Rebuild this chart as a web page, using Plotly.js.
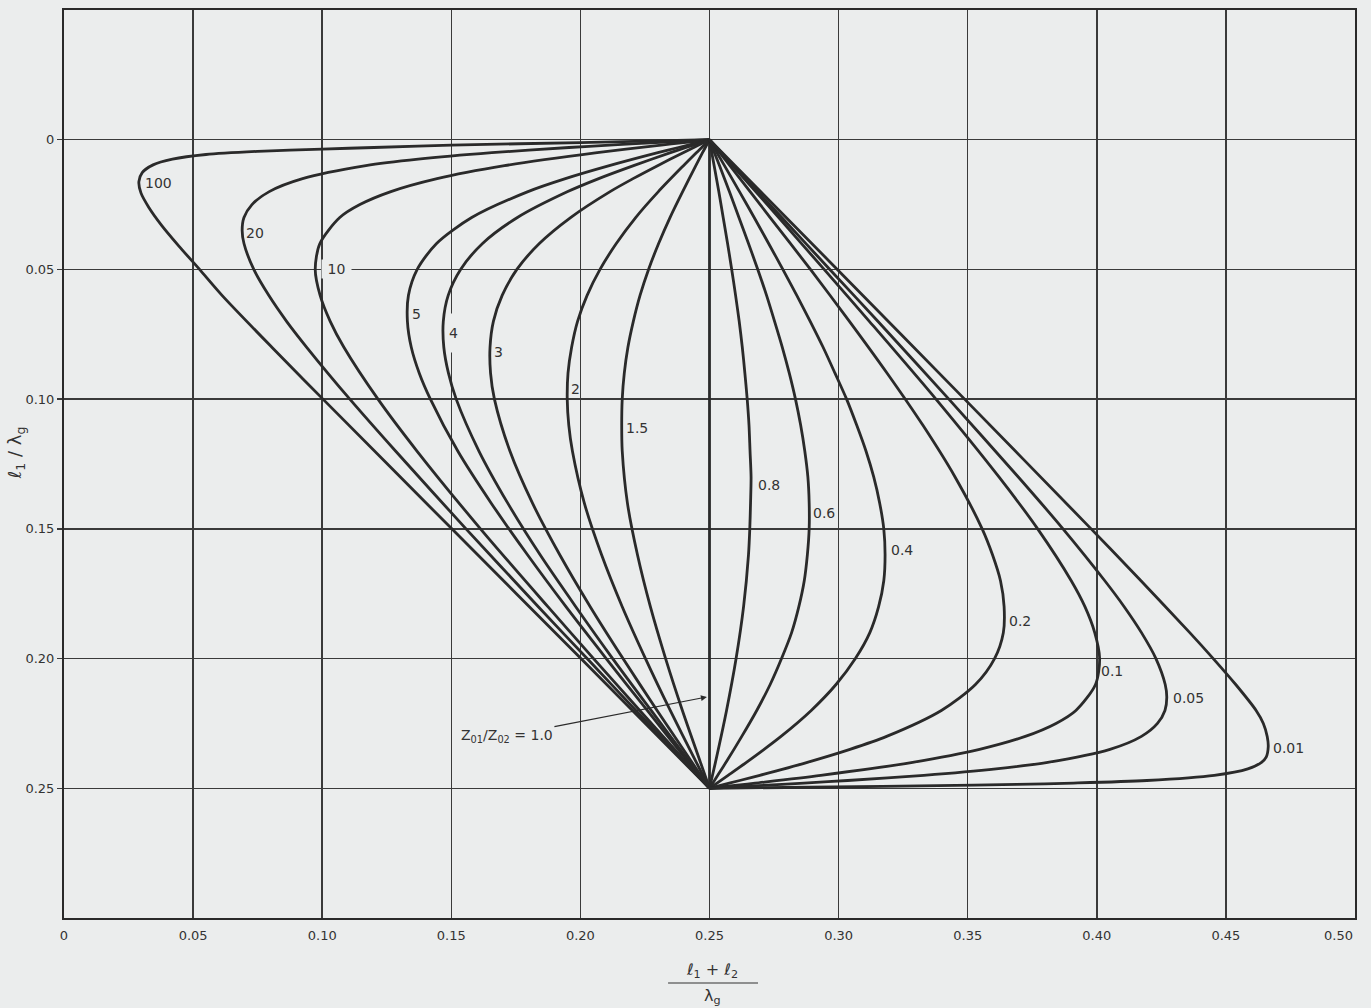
<!DOCTYPE html>
<html>
<head>
<meta charset="utf-8">
<script src="https://cdn.plot.ly/plotly-3.0.1.min.js"></script>
<style>
  html, body { margin: 0; padding: 0; background: #ebeded; }
  #chart { width: 1371px; height: 1008px; }
</style>
</head>
<body>
<div id="chart"></div>
<script>
// ---- data (x = (l1+l2)/lambda_g, y = l1/lambda_g) ----
const x_100 = [0.25, 0.20, 0.15, 0.12, 0.10, 0.075, 0.055, 0.042, 0.0345, 0.0303, 0.0290, 0.0298, 0.0328, 0.0378, 0.0445, 0.0525, 0.0612, 0.0805, 0.1003, 0.1502, 0.2002, 0.25];
const y_100 = [0, 0.0011, 0.0021, 0.0030, 0.0036, 0.0045, 0.0057, 0.0075, 0.0097, 0.0127, 0.0162, 0.0205, 0.0260, 0.0330, 0.0410, 0.0500, 0.0600, 0.0800, 0.1000, 0.1500, 0.2000, 0.25];

const x_20 = [0.25, 0.2405, 0.2311, 0.2128, 0.1956, 0.1657, 0.1372, 0.1169, 0.0924, 0.0795, 0.0728, 0.0697, 0.0690, 0.0697, 0.0735, 0.0793, 0.0862, 0.0940, 0.1107, 0.1284, 0.1557, 0.1837, 0.2026, 0.2215, 0.25];
const y_20 = [0, 0.0005, 0.001, 0.002, 0.003, 0.005, 0.0075, 0.01, 0.015, 0.02, 0.025, 0.03, 0.035, 0.04, 0.05, 0.06, 0.07, 0.08, 0.10, 0.12, 0.15, 0.18, 0.20, 0.22, 0.25];

const x_10 = [0.25, 0.2455, 0.2410, 0.2321, 0.2065, 0.1706, 0.1445, 0.1266, 0.1146, 0.1068, 0.0991, 0.0973, 0.0992, 0.1031, 0.1084, 0.1216, 0.1367, 0.1613, 0.1874, 0.2051, 0.2230, 0.25];
const y_10 = [0, 0.0005, 0.001, 0.002, 0.005, 0.01, 0.015, 0.02, 0.025, 0.03, 0.04, 0.05, 0.06, 0.07, 0.08, 0.10, 0.12, 0.15, 0.18, 0.20, 0.22, 0.25];

const y_mid = [0, 0.001, 0.003, 0.005, 0.01, 0.015, 0.02, 0.03, 0.04, 0.05, 0.06, 0.07, 0.08, 0.09, 0.10, 0.12, 0.14, 0.16, 0.18, 0.20, 0.22, 0.24, 0.25];
const x_5 = [0.25, 0.2460, 0.2380, 0.2300, 0.2112, 0.1942, 0.1797, 0.1579, 0.1443, 0.1368, 0.1334, 0.1330, 0.1345, 0.1376, 0.1419, 0.1525, 0.1654, 0.1795, 0.1944, 0.2100, 0.2259, 0.2419, 0.25];
const x_4 = [0.25, 0.2470, 0.2409, 0.2349, 0.2206, 0.2071, 0.1951, 0.1756, 0.1621, 0.1536, 0.1488, 0.1469, 0.1471, 0.1489, 0.1519, 0.1607, 0.1718, 0.1844, 0.1982, 0.2125, 0.2274, 0.2424, 0.25];
const x_3 = [0.25, 0.2480, 0.2439, 0.2398, 0.2299, 0.2204, 0.2115, 0.1962, 0.1841, 0.1754, 0.1697, 0.1663, 0.1650, 0.1652, 0.1667, 0.1727, 0.1814, 0.1920, 0.2038, 0.2165, 0.2297, 0.2432, 0.25];

const x_2 = [0.25, 0.2470, 0.2449, 0.2399, 0.2302, 0.2214, 0.2139, 0.2076, 0.2026, 0.1989, 0.1966, 0.1952, 0.1949, 0.1955, 0.1969, 0.2015, 0.2082, 0.2162, 0.2252, 0.2348, 0.2449, 0.25];
const y_2 = [0, 0.003, 0.005, 0.01, 0.02, 0.03, 0.04, 0.05, 0.06, 0.07, 0.08, 0.09, 0.10, 0.11, 0.12, 0.14, 0.16, 0.18, 0.20, 0.22, 0.24, 0.25];

const x_15 = [0.25, 0.2473, 0.2447, 0.2396, 0.2347, 0.2303, 0.2264, 0.2231, 0.2205, 0.2184, 0.2170, 0.2162, 0.2160, 0.2162, 0.2182, 0.2221, 0.2271, 0.2330, 0.2395, 0.2465, 0.25];
const y_15 = [0, 0.005, 0.01, 0.02, 0.03, 0.04, 0.05, 0.06, 0.07, 0.08, 0.09, 0.10, 0.11, 0.12, 0.14, 0.16, 0.18, 0.20, 0.22, 0.24, 0.25];

const x_1 = [0.25, 0.25];
const y_1 = [0, 0.25];

const x_08 = [0.25, 0.2509, 0.2518, 0.2536, 0.2553, 0.2570, 0.2586, 0.2601, 0.2615, 0.2627, 0.2637, 0.2646, 0.2653, 0.2657, 0.2661, 0.2659, 0.2656, 0.2651, 0.2632, 0.2603, 0.2566, 0.2523, 0.25];
const y_08 = [0, 0.005, 0.01, 0.02, 0.03, 0.04, 0.05, 0.06, 0.07, 0.08, 0.09, 0.10, 0.11, 0.12, 0.13, 0.14, 0.15, 0.16, 0.18, 0.20, 0.22, 0.24, 0.25];

const y_fine = [0, 0.005, 0.01, 0.02, 0.03, 0.04, 0.05, 0.06, 0.07, 0.08, 0.09, 0.10, 0.11, 0.12, 0.13, 0.14, 0.15, 0.16, 0.17, 0.18, 0.19, 0.20, 0.21, 0.22, 0.23, 0.24, 0.245, 0.25];
const x_06 = [0.25, 0.2519, 0.2539, 0.2577, 0.2614, 0.2651, 0.2687, 0.2721, 0.2752, 0.2782, 0.2809, 0.2833, 0.2853, 0.2869, 0.2881, 0.2886, 0.2886, 0.2879, 0.2867, 0.2846, 0.2818, 0.2779, 0.2735, 0.2683, 0.2625, 0.2564, 0.2532, 0.25];
const x_04 = [0.25, 0.2529, 0.2558, 0.2616, 0.2673, 0.2729, 0.2784, 0.2838, 0.2890, 0.2940, 0.2986, 0.3031, 0.3070, 0.3106, 0.3136, 0.3159, 0.3175, 0.3180, 0.3175, 0.3155, 0.3121, 0.3065, 0.2990, 0.2894, 0.2777, 0.2643, 0.2572, 0.25];

const x_02 = [0.25, 0.2579, 0.2735, 0.2891, 0.3042, 0.3188, 0.3326, 0.3451, 0.3556, 0.3596, 0.3627, 0.3641, 0.3638, 0.3604, 0.3530, 0.3398, 0.3186, 0.3044, 0.2879, 0.2695, 0.2617, 0.2539, 0.25];
const y_02 = [0, 0.01, 0.03, 0.05, 0.07, 0.09, 0.11, 0.13, 0.15, 0.16, 0.17, 0.18, 0.19, 0.20, 0.21, 0.22, 0.23, 0.235, 0.24, 0.245, 0.247, 0.249, 0.25];

const x_01 = [0.25, 0.2768, 0.2944, 0.3119, 0.3377, 0.3621, 0.3771, 0.3901, 0.3954, 0.3992, 0.4011, 0.3995, 0.3919, 0.3842, 0.3723, 0.3546, 0.3287, 0.2931, 0.2677, 0.2589, 0.2545, 0.25];
const y_01 = [0, 0.03, 0.05, 0.07, 0.10, 0.13, 0.15, 0.17, 0.18, 0.19, 0.20, 0.21, 0.22, 0.225, 0.23, 0.235, 0.24, 0.245, 0.248, 0.249, 0.2495, 0.25];

const x_005 = [0.25, 0.2780, 0.2966, 0.3152, 0.3427, 0.3696, 0.3869, 0.4031, 0.4106, 0.4173, 0.4229, 0.4265, 0.4271, 0.4264, 0.4235, 0.4173, 0.4051, 0.3810, 0.3610, 0.3330, 0.3035, 0.2866, 0.2686, 0.2593, 0.25];
const y_005 = [0, 0.03, 0.05, 0.07, 0.10, 0.13, 0.15, 0.17, 0.18, 0.19, 0.20, 0.21, 0.215, 0.22, 0.225, 0.23, 0.235, 0.24, 0.2425, 0.245, 0.247, 0.248, 0.249, 0.2495, 0.25];

const x_001 = [0.25, 0.2995, 0.3488, 0.3978, 0.4171, 0.4360, 0.4451, 0.4538, 0.4617, 0.4645, 0.4660, 0.4664, 0.4656, 0.4638, 0.4585, 0.4455, 0.4194, 0.3910, 0.3690, 0.3383, 0.2979, 0.25];
const y_001 = [0, 0.05, 0.10, 0.15, 0.17, 0.19, 0.20, 0.21, 0.22, 0.225, 0.23, 0.234, 0.238, 0.24, 0.2425, 0.245, 0.247, 0.248, 0.2485, 0.249, 0.2495, 0.25];

// curve labels (ratio Z01/Z02) and where they are written
const label_text = ['100', '20', '10', '5', '4', '3', '2', '1.5', '0.8', '0.6', '0.4', '0.2', '0.1', '0.05', '0.01'];
const label_x = [0.0366, 0.0738, 0.1055, 0.1365, 0.1510, 0.1682, 0.1981, 0.2218, 0.2730, 0.2944, 0.3246, 0.3703, 0.4058, 0.4357, 0.4741];
const label_y = [0.0167, 0.0360, 0.0498, 0.0672, 0.0745, 0.0818, 0.0961, 0.1111, 0.1331, 0.1439, 0.1582, 0.1855, 0.2048, 0.2152, 0.2345];

const x_ticks = [0, 0.05, 0.10, 0.15, 0.20, 0.25, 0.30, 0.35, 0.40, 0.45];
const x_ticktext = ['0', '0.05', '0.10', '0.15', '0.20', '0.25', '0.30', '0.35', '0.40', '0.45'];
const y_ticks = [0, 0.05, 0.10, 0.15, 0.20, 0.25];
const y_ticktext = ['0', '0.05', '0.10', '0.15', '0.20', '0.25'];

// ---- drawing ----
const BG = '#ebeded';
const INK = '#2a2a2a';
const FONT = '"DejaVu Sans", "Noto Sans", sans-serif';

const curves = [
  [x_100, y_100], [x_20, y_20], [x_10, y_10],
  [x_5, y_mid], [x_4, y_mid], [x_3, y_mid],
  [x_2, y_2], [x_15, y_15], [x_1, y_1],
  [x_08, y_08], [x_06, y_fine], [x_04, y_fine],
  [x_02, y_02], [x_01, y_01], [x_005, y_005], [x_001, y_001]
];

const traces = curves.map(c => ({
  type: 'scatter', mode: 'lines', x: c[0], y: c[1],
  line: { color: INK, width: 2.8, shape: 'spline', smoothing: 0.8 },
  hoverinfo: 'skip', showlegend: false
}));

const annotations = label_text.map((t, i) => {
  const a = {
    x: label_x[i], y: label_y[i], xref: 'x', yref: 'y', xanchor: 'center', yanchor: 'middle',
    text: t, showarrow: false,
    font: { family: FONT, size: 14, color: '#333' }
  };
  if (t === '10') { a.bgcolor = BG; a.width = 27; }
  if (t === '4') { a.bgcolor = BG; a.height = 36; }
  return a;
});

annotations.push({
  x: 0.249, y: 0.2148, xref: 'x', yref: 'y',
  text: 'Z<sub>01</sub>/Z<sub>02</sub> = 1.0',
  showarrow: true, ax: -200, ay: 39, arrowhead: 2, arrowsize: 1, arrowwidth: 1.2, arrowcolor: INK,
  font: { family: FONT, size: 14, color: '#333' }
});
annotations.push({
  x: 0.5, xref: 'x', xanchor: 'right', y: 0, yref: 'paper', yanchor: 'top', yshift: -8,
  text: '0.50', showarrow: false, font: { family: FONT, size: 13, color: '#333' }
});
annotations.push({
  x: -0.0372, xref: 'paper', xanchor: 'center', y: 0.513, yref: 'paper', yanchor: 'middle', textangle: -90,
  text: '<i>ℓ</i><sub>1</sub> / λ<sub>g</sub>', showarrow: false,
  font: { family: FONT, size: 18, color: '#333' }
});
annotations.push({
  x: 0.502, xref: 'paper', xanchor: 'center', y: -0.0573, yref: 'paper', yanchor: 'middle',
  text: '<i>ℓ</i><sub>1</sub> + <i>ℓ</i><sub>2</sub>', showarrow: false,
  font: { family: FONT, size: 16, color: '#333' }
});
annotations.push({
  x: 0.502, xref: 'paper', xanchor: 'center', y: -0.0860, yref: 'paper', yanchor: 'middle',
  text: 'λ<sub>g</sub>', showarrow: false,
  font: { family: FONT, size: 16, color: '#333' }
});

const layout = {
  width: 1371, height: 1008,
  margin: { l: 64, r: 16, t: 10, b: 90 },
  paper_bgcolor: BG, plot_bgcolor: BG,
  showlegend: false,
  xaxis: {
    range: [0, 0.5], tickvals: x_ticks, ticktext: x_ticktext,
    showgrid: true, gridcolor: '#3a3a3a', gridwidth: 1.5, zeroline: false,
    showline: true, linecolor: INK, linewidth: 2, mirror: true,
    ticks: 'outside', ticklen: 4, tickcolor: BG,
    tickfont: { family: FONT, size: 13, color: '#333' }
  },
  yaxis: {
    range: [0.30, -0.05], tickvals: y_ticks, ticktext: y_ticktext,
    showgrid: true, gridcolor: '#3a3a3a', gridwidth: 1.5, zeroline: false,
    showline: true, linecolor: INK, linewidth: 2, mirror: true,
    ticks: 'outside', ticklen: 5, tickwidth: 1.5, tickcolor: '#3a3a3a',
    tickfont: { family: FONT, size: 13, color: '#333' }
  },
  shapes: [{
    type: 'line', xref: 'paper', yref: 'paper',
    x0: 0.4679, x1: 0.5376, y0: -0.0716, y1: -0.0716,
    line: { color: '#333', width: 1.2 }
  }],
  annotations: annotations
};

Plotly.newPlot('chart', traces, layout, { staticPlot: true });
</script>
</body>
</html>
